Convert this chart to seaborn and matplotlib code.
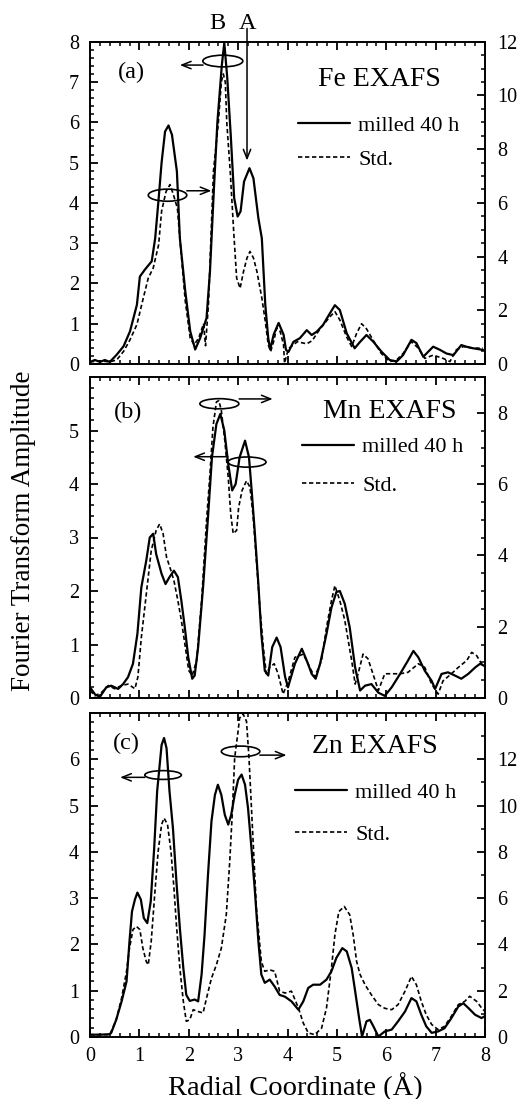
import matplotlib
matplotlib.use("Agg")
import matplotlib.pyplot as plt
import seaborn as sns
from matplotlib.patches import Ellipse
from matplotlib.lines import Line2D
from matplotlib.ticker import MultipleLocator, FixedLocator

# ---------------- data (left axis: milled 40 h, right axis: Std.) ----------------
fe_x_mill = [0.0, 0.1, 0.2, 0.3, 0.4, 0.54, 0.68, 0.81, 0.95, 1.01, 1.11, 1.25, 1.32, 1.39, 1.45, 1.52, 1.59, 1.66,
             1.76, 1.82, 1.93, 2.03, 2.13, 2.23, 2.36, 2.43, 2.51, 2.58, 2.67, 2.72, 2.78, 2.85, 2.92, 2.99, 3.05,
             3.12, 3.23, 3.31, 3.41, 3.48, 3.55, 3.61, 3.65, 3.72, 3.82, 3.92, 3.97, 4.02, 4.12, 4.25, 4.39, 4.49,
             4.59, 4.72, 4.86, 4.96, 5.06, 5.2, 5.36, 5.47, 5.6, 5.74, 5.9, 6.07, 6.21, 6.34, 6.51, 6.61, 6.75,
             6.95, 7.09, 7.22, 7.36, 7.52, 7.62, 7.76, 7.96]
fe_y_mill = [0.05, 0.1, 0.05, 0.1, 0.05, 0.23, 0.44, 0.81, 1.47, 2.17, 2.34, 2.55, 3.12, 4.1, 5.0, 5.77, 5.92, 5.69,
             4.78, 3.12, 1.8, 0.81, 0.36, 0.64, 1.14, 2.3, 4.36, 6.0, 7.42, 7.97, 7.1, 5.69, 4.12, 3.66, 3.79,
             4.53, 4.86, 4.61, 3.62, 3.12, 1.47, 0.64, 0.36, 0.73, 1.02, 0.73, 0.35, 0.3, 0.55, 0.64, 0.84, 0.72,
             0.8, 0.97, 1.26, 1.46, 1.34, 0.76, 0.39, 0.55, 0.72, 0.55, 0.31, 0.1, 0.06, 0.22, 0.6, 0.52, 0.18,
             0.43, 0.35, 0.26, 0.22, 0.47, 0.43, 0.39, 0.35]
fe_x_std = [0.0, 0.2, 0.4, 0.54, 0.68, 0.81, 0.95, 1.08, 1.18, 1.28, 1.39, 1.45, 1.54, 1.62, 1.69, 1.77, 1.82, 1.93,
            2.03, 2.11, 2.2, 2.3, 2.34, 2.4, 2.5, 2.6, 2.66, 2.7, 2.74, 2.77, 2.84, 2.91, 2.97, 3.04, 3.11, 3.18,
            3.24, 3.31, 3.38, 3.48, 3.55, 3.61, 3.66, 3.72, 3.78, 3.85, 3.92, 3.94, 3.99, 4.04, 4.2, 4.39, 4.5,
            4.66, 4.86, 4.96, 5.06, 5.2, 5.3, 5.4, 5.5, 5.6, 5.74, 5.9, 6.07, 6.21, 6.34, 6.51, 6.65, 6.78, 6.95,
            7.15, 7.29, 7.42, 7.56, 7.76, 7.96]
fe_y_std = [0.08, 0.12, 0.08, 0.15, 0.47, 0.9, 1.47, 2.46, 3.2, 3.57, 4.44, 5.69, 6.42, 6.68, 6.3, 5.8, 4.68, 2.33,
            0.96, 0.72, 0.96, 1.5, 0.68, 2.25, 7.17, 9.0, 10.5, 10.8, 10.5, 9.0, 7.17, 4.94, 3.2, 2.82, 3.45, 3.95,
            4.19, 3.95, 3.45, 2.46, 1.59, 0.72, 0.47, 0.84, 1.34, 1.22, 0.72, 0.03, 0.38, 0.6, 0.83, 0.75, 0.87,
            1.31, 1.76, 1.95, 1.64, 1.0, 0.65, 1.14, 1.5, 1.31, 0.87, 0.39, 0.09, 0.15, 0.39, 0.83, 0.59, 0.21, 0.33,
            0.21, 0.09, 0.53, 0.65, 0.59, 0.59]

mn_x_mill = [0.0, 0.1, 0.2, 0.33, 0.43, 0.57, 0.67, 0.77, 0.87, 0.96, 1.04, 1.14, 1.21, 1.28, 1.34, 1.45, 1.53, 1.61,
             1.7, 1.78, 1.85, 1.92, 1.99, 2.07, 2.12, 2.19, 2.29, 2.39, 2.47, 2.56, 2.64, 2.72, 2.8, 2.88, 2.95,
             3.03, 3.14, 3.22, 3.28, 3.34, 3.41, 3.47, 3.54, 3.61, 3.69, 3.78, 3.86, 3.95, 4.01, 4.15, 4.29, 4.39,
             4.49, 4.57, 4.66, 4.79, 4.89, 4.99, 5.06, 5.16, 5.26, 5.37, 5.47, 5.57, 5.7, 5.84, 5.97, 6.11, 6.28,
             6.44, 6.55, 6.65, 6.78, 6.92, 6.99, 7.12, 7.25, 7.39, 7.52, 7.66, 7.8, 7.9, 7.99]
mn_y_mill = [0.2, 0.07, 0.02, 0.2, 0.23, 0.17, 0.26, 0.39, 0.64, 1.2, 2.07, 2.57, 3.0, 3.07, 2.69, 2.32, 2.13, 2.26,
             2.38, 2.26, 1.82, 1.32, 0.76, 0.36, 0.42, 0.95, 2.07, 3.38, 4.5, 5.12, 5.31, 5.0, 4.37, 3.88, 4.0,
             4.5, 4.81, 4.5, 3.81, 3.07, 2.13, 1.2, 0.51, 0.42, 0.95, 1.13, 0.95, 0.4, 0.2, 0.64, 0.92, 0.7,
             0.45, 0.36, 0.64, 1.2, 1.69, 1.98, 2.0, 1.76, 1.32, 0.57, 0.14, 0.23, 0.26, 0.1, 0.04, 0.2, 0.45,
             0.7, 0.88, 0.76, 0.51, 0.32, 0.17, 0.45, 0.48, 0.42, 0.36, 0.45, 0.57, 0.64, 0.6]
mn_x_std = [0.0, 0.1, 0.23, 0.37, 0.5, 0.64, 0.77, 0.91, 0.97, 1.04, 1.14, 1.24, 1.34, 1.41, 1.48, 1.55, 1.64, 1.7,
            1.78, 1.85, 1.93, 2.0, 2.07, 2.16, 2.26, 2.36, 2.43, 2.49, 2.56, 2.61, 2.66, 2.73, 2.8, 2.85, 2.9,
            2.97, 3.01, 3.08, 3.17, 3.24, 3.3, 3.37, 3.44, 3.51, 3.57, 3.64, 3.73, 3.81, 3.91, 4.01, 4.15, 4.32,
            4.45, 4.55, 4.69, 4.79, 4.89, 4.96, 5.06, 5.16, 5.23, 5.3, 5.37, 5.43, 5.53, 5.63, 5.73, 5.84, 5.97,
            6.11, 6.28, 6.44, 6.65, 6.78, 6.92, 7.05, 7.15, 7.32, 7.46, 7.63, 7.73, 7.83, 7.93, 8.0]
mn_y_std = [0.21, 0.06, 0.15, 0.35, 0.26, 0.35, 0.39, 0.26, 0.59, 1.7, 2.91, 4.13, 4.7, 4.88, 4.61, 3.95, 3.57, 3.29,
            2.73, 2.18, 1.43, 0.77, 0.63, 1.05, 2.73, 4.97, 6.29, 7.59, 8.3, 8.34, 8.06, 7.22, 6.18, 5.16, 4.61,
            4.7, 5.34, 5.82, 6.09, 5.91, 5.16, 3.86, 2.54, 1.43, 0.68, 0.86, 0.96, 0.68, 0.11, 0.45, 1.14, 1.23,
            0.86, 0.59, 1.05, 1.98, 2.73, 3.15, 2.73, 2.18, 1.61, 1.05, 0.39, 0.68, 1.23, 1.1, 0.68, 0.21, 0.68,
            0.68, 0.68, 0.72, 0.96, 0.86, 0.39, 0.11, 0.48, 0.68, 0.86, 1.05, 1.28, 1.19, 0.96, 0.86]

zn_x_mill = [0.0, 0.2, 0.4, 0.43, 0.53, 0.64, 0.74, 0.8, 0.85, 0.91, 0.96, 1.03, 1.09, 1.16, 1.23, 1.3, 1.36, 1.45,
             1.5, 1.55, 1.61, 1.68, 1.75, 1.82, 1.89, 1.95, 2.02, 2.12, 2.19, 2.26, 2.32, 2.39, 2.46, 2.53, 2.59,
             2.66, 2.73, 2.8, 2.86, 2.93, 3.0, 3.07, 3.14, 3.2, 3.27, 3.34, 3.41, 3.47, 3.54, 3.64, 3.74, 3.84,
             3.95, 4.08, 4.22, 4.32, 4.42, 4.52, 4.66, 4.79, 4.89, 4.99, 5.11, 5.2, 5.3, 5.37, 5.45, 5.51, 5.6,
             5.67, 5.74, 5.84, 5.97, 6.11, 6.24, 6.38, 6.51, 6.61, 6.71, 6.81, 6.92, 7.05, 7.18, 7.32, 7.46, 7.56,
             7.66, 7.8, 7.93, 8.0]
zn_y_mill = [0.05, 0.05, 0.06, 0.09, 0.37, 0.77, 1.2, 2.07, 2.71, 2.97, 3.12, 2.97, 2.57, 2.46, 2.93, 4.08, 5.31, 6.31,
             6.46, 6.24, 5.31, 4.51, 3.36, 2.35, 1.49, 0.91, 0.78, 0.81, 0.77, 1.35, 2.21, 3.51, 4.66, 5.23, 5.45,
             5.23, 4.8, 4.59, 4.8, 5.23, 5.56, 5.67, 5.45, 4.95, 4.08, 3.15, 2.07, 1.35, 1.17, 1.24, 1.09, 0.91,
             0.87, 0.77, 0.59, 0.77, 1.06, 1.13, 1.13, 1.24, 1.42, 1.71, 1.92, 1.85, 1.49, 0.99, 0.41, 0.01, 0.34,
             0.37, 0.23, 0.01, 0.12, 0.16, 0.34, 0.55, 0.84, 0.77, 0.48, 0.23, 0.09, 0.12, 0.19, 0.41, 0.66, 0.73,
             0.63, 0.48, 0.41, 0.45]
zn_x_std = [0.0, 0.2, 0.4, 0.53, 0.64, 0.74, 0.8, 0.87, 0.94, 1.01, 1.07, 1.14, 1.18, 1.24, 1.31, 1.38, 1.45, 1.5,
            1.57, 1.64, 1.7, 1.75, 1.82, 1.89, 1.95, 2.02, 2.09, 2.19, 2.29, 2.36, 2.46, 2.56, 2.66, 2.76, 2.83,
            2.88, 2.93, 2.99, 3.03, 3.1, 3.17, 3.22, 3.27, 3.32, 3.37, 3.42, 3.47, 3.54, 3.64, 3.74, 3.84, 3.95,
            4.08, 4.22, 4.32, 4.42, 4.55, 4.69, 4.79, 4.89, 4.96, 5.04, 5.15, 5.26, 5.33, 5.4, 5.47, 5.57, 5.7,
            5.84, 5.97, 6.11, 6.24, 6.38, 6.51, 6.61, 6.71, 6.81, 6.92, 7.05, 7.18, 7.32, 7.46, 7.59, 7.69, 7.83,
            7.93, 8.0]
zn_y_std = [0.1, 0.1, 0.1, 0.74, 1.68, 2.84, 3.84, 4.64, 4.78, 4.64, 3.84, 3.26, 3.12, 4.14, 6.14, 8.02, 9.18, 9.46,
            9.18, 8.02, 6.44, 4.86, 2.98, 1.54, 0.68, 0.74, 1.18, 1.1, 1.04, 1.68, 2.54, 3.12, 3.84, 5.28, 7.58,
            9.6, 12.06, 13.06, 13.78, 13.96, 13.64, 12.06, 9.9, 7.74, 5.58, 4.42, 3.26, 2.84, 2.9, 2.84, 1.98, 1.9,
            1.98, 1.26, 0.6, 0.18, 0.1, 0.38, 1.26, 2.98, 4.42, 5.42, 5.64, 5.28, 4.42, 3.26, 2.7, 2.26, 1.82,
            1.4, 1.24, 1.18, 1.4, 1.98, 2.62, 2.26, 1.54, 0.96, 0.54, 0.32, 0.46, 0.9, 1.4, 1.54, 1.76, 1.54,
            1.26, 1.1]

panel_tags = ["(a)", "(b)", "(c)"]
panel_titles = ["Fe EXAFS", "Mn EXAFS", "Zn EXAFS"]
legend_labels = ["milled 40 h", "Std."]
x_tick_labels = ["0", "1", "2", "3", "4", "5", "6", "7", "8"]

# ---------------- style ----------------
sns.set_theme(style="ticks", rc={
    "axes.edgecolor": "black", "xtick.color": "black", "ytick.color": "black",
    "text.color": "black", "axes.labelcolor": "black", "axes.linewidth": 1.2,
})
plt.rcParams['font.family'] = ['Liberation Serif', 'DejaVu Serif']

fig = plt.figure(figsize=(5.24, 10.99), dpi=100)

L, W = 90 / 524, 395 / 524
panels = [
    dict(mx=fe_x_mill, my=fe_y_mill, sx=fe_x_std, sy=fe_y_std, pos=(1 - 364 / 1099, 322.3 / 1099),
         lmax=8, lmaj=list(range(0, 9)), rmax=12, rmaj=list(range(0, 13, 2)), rmin=0.5,
         tag=(0.104, 0.906), title=(0.732, 0.883), leg=(0.527, 0.687), legsp=0.6,
         ellipses=[(1.57, 4.19, 0.78, 0.30), (2.69, 7.52, 0.81, 0.29)],
         arrows=[((1.96, 4.30), (2.46, 4.30)), ((2.29, 7.42), (1.82, 7.42)), ((3.18, 8.33), (3.18, 5.05))]),
    dict(mx=mn_x_mill, my=mn_y_mill, sx=mn_x_std, sy=mn_y_std, pos=(1 - 698 / 1099, 321 / 1099),
         lmax=6, lmaj=list(range(0, 6)), rmax=9, rmaj=list(range(0, 9, 2)), rmin=0.5,
         tag=(0.096, 0.889), title=(0.758, 0.892), leg=(0.537, 0.721), legsp=0.82,
         ellipses=[(2.62, 5.50, 0.79, 0.19), (3.18, 4.41, 0.77, 0.19)],
         arrows=[((3.02, 5.59), (3.70, 5.59)), ((2.79, 4.51), (2.09, 4.51))]),
    dict(mx=zn_x_mill, my=zn_y_mill, sx=zn_x_std, sy=zn_y_std, pos=(1 - 1037 / 1099, 324 / 1099),
         lmax=7, lmaj=list(range(0, 7)), rmax=14, rmaj=list(range(0, 13, 2)), rmin=1,
         tag=(0.093, 0.907), title=(0.720, 0.896), leg=(0.519, 0.690), legsp=0.95,
         ellipses=[(1.48, 5.66, 0.74, 0.19), (3.05, 6.17, 0.78, 0.23)],
         arrows=[((1.11, 5.61), (0.61, 5.61)), ((3.44, 6.09), (3.98, 6.09))]),
]

arrow_props = dict(arrowstyle="->,head_length=0.55,head_width=0.22", lw=1.1, color="black",
                   shrinkA=0, shrinkB=0)
mill_style = dict(color="black", lw=1.6)
std_style = dict(color="black", lw=1.2, linestyle=(0, (2.6, 1.6)))

for i, p in enumerate(panels):
    ax = fig.add_axes([L, p["pos"][0], W, p["pos"][1]])
    axr = ax.twinx()
    sns.lineplot(x=p["mx"], y=p["my"], ax=ax, estimator=None, sort=False, **mill_style)
    sns.lineplot(x=p["sx"], y=p["sy"], ax=axr, estimator=None, sort=False, **std_style)
    ax.set_xlim(0, 8)
    ax.set_ylim(0, p["lmax"])
    axr.set_ylim(0, p["rmax"])
    for a in (ax, axr):
        a.set_xlabel("")
        a.set_ylabel("")

    ax.text(*p["tag"], panel_tags[i], transform=ax.transAxes, fontsize=17.5, ha="center", va="center")
    ax.text(*p["title"], panel_titles[i], transform=ax.transAxes, fontsize=20, ha="center", va="center")

    for (cx, cy, ew, eh) in p["ellipses"]:
        ax.add_patch(Ellipse((cx, cy), ew, eh, fill=False, ec="black", lw=1.2, clip_on=False, zorder=5))
    for (start, tip) in p["arrows"]:
        ax.annotate("", xy=tip, xytext=start, arrowprops=arrow_props, annotation_clip=False, zorder=5)

    handles = [Line2D([], [], **mill_style), Line2D([], [], **std_style)]
    axr.legend(handles=handles, labels=legend_labels, loc="center left",
               bbox_to_anchor=p["leg"], frameon=False, fontsize=16, handlelength=2.35,
               handletextpad=0.35, labelspacing=p["legsp"], borderpad=0, borderaxespad=0)

    if i == 0:
        ax.text(2.57, 8.46, "B", fontsize=17.5, ha="center", va="center", clip_on=False)
        ax.text(3.20, 8.46, "A", fontsize=17.5, ha="center", va="center", clip_on=False)

    # ticks (applied last)
    ax.xaxis.set_major_locator(FixedLocator(list(range(9))))
    ax.xaxis.set_minor_locator(MultipleLocator(0.2))
    ax.yaxis.set_major_locator(FixedLocator(p["lmaj"]))
    ax.yaxis.set_minor_locator(MultipleLocator(0.2))
    axr.yaxis.set_major_locator(FixedLocator(p["rmaj"]))
    axr.yaxis.set_minor_locator(MultipleLocator(p["rmin"]))
    ax.tick_params(axis="x", which="both", direction="in", top=True, bottom=True)
    ax.tick_params(axis="y", which="both", direction="in", left=True, right=False)
    axr.tick_params(axis="y", which="both", direction="in", right=True, left=False)
    ax.tick_params(axis="x", which="major", labelsize=14.5, pad=7)
    ax.tick_params(axis="y", which="major", labelsize=14.5, pad=8)
    axr.tick_params(axis="y", which="major", labelsize=14.5, pad=9)
    for a in (ax, axr):
        a.tick_params(which="major", length=5.5, width=1.3, color="black")
        a.tick_params(which="minor", length=3.2, width=1.1, color="black")
    if i < 2:
        ax.tick_params(axis="x", labelbottom=False)
    else:
        ax.set_xticklabels(x_tick_labels)

fig.text(0.044, 0.517, "Fourier Transform Amplitude", rotation=90, fontsize=19.5, ha="center", va="center")
fig.text(0.563, 0.0115, "Radial Coordinate (Å)", fontsize=20.5, ha="center", va="center")

fig.savefig("out.png", dpi=100)
